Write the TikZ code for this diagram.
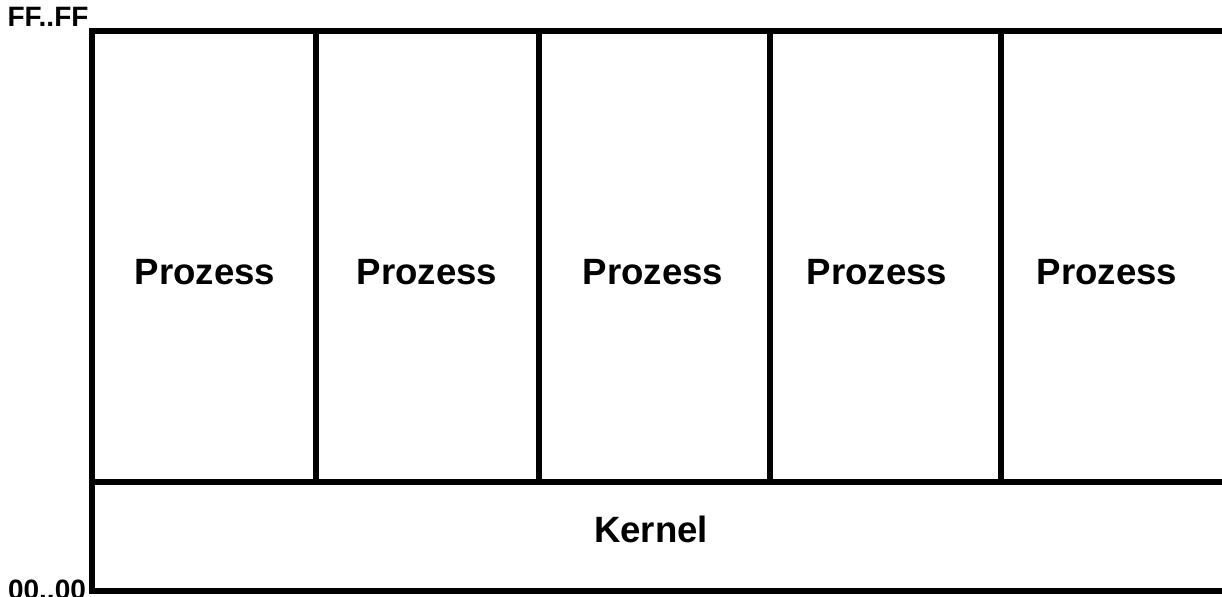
\documentclass[tikz,border=0pt]{standalone}
\usepackage{fontspec}
\setmainfont{Liberation Sans}
\tikzset{
  wall/.style={line width=2.6pt, line cap=rect},
  proc/.style={font=\fontsize{18.3}{20}\selectfont\bfseries},
  addr/.style={font=\fontsize{14}{15}\selectfont\bfseries}
}
\begin{document}
\begin{tikzpicture}[x=0.5pt,y=0.5pt]
            \useasboundingbox (0,0) rectangle (1222,597);

            % frame, open on the right
            \draw[wall] (1230,566) -- (92,566) -- (92,6) -- (1230,6);
            \draw[wall] (92,115) -- (1230,115);
            \foreach \x in {316,539,770,1001}
                \draw[wall] (\x,566) -- (\x,115);

            \node[proc] (p1) at (205,325) {Prozess};
            \node[proc] (p2) at (427,325) {Prozess};
            \node[proc] (p3) at (653,325) {Prozess};
            \node[proc] (p4) at (877,325) {Prozess};
            \node[proc] (p5) at (1107,325) {Prozess};
            \node[proc] (kernel) at (651,68) {Kernel};

            \node[addr] (top) at (48,580) {FF..FF};
            \node[addr] (bottom) at (47,7) {00..00};
        \end{tikzpicture}
\end{document}
